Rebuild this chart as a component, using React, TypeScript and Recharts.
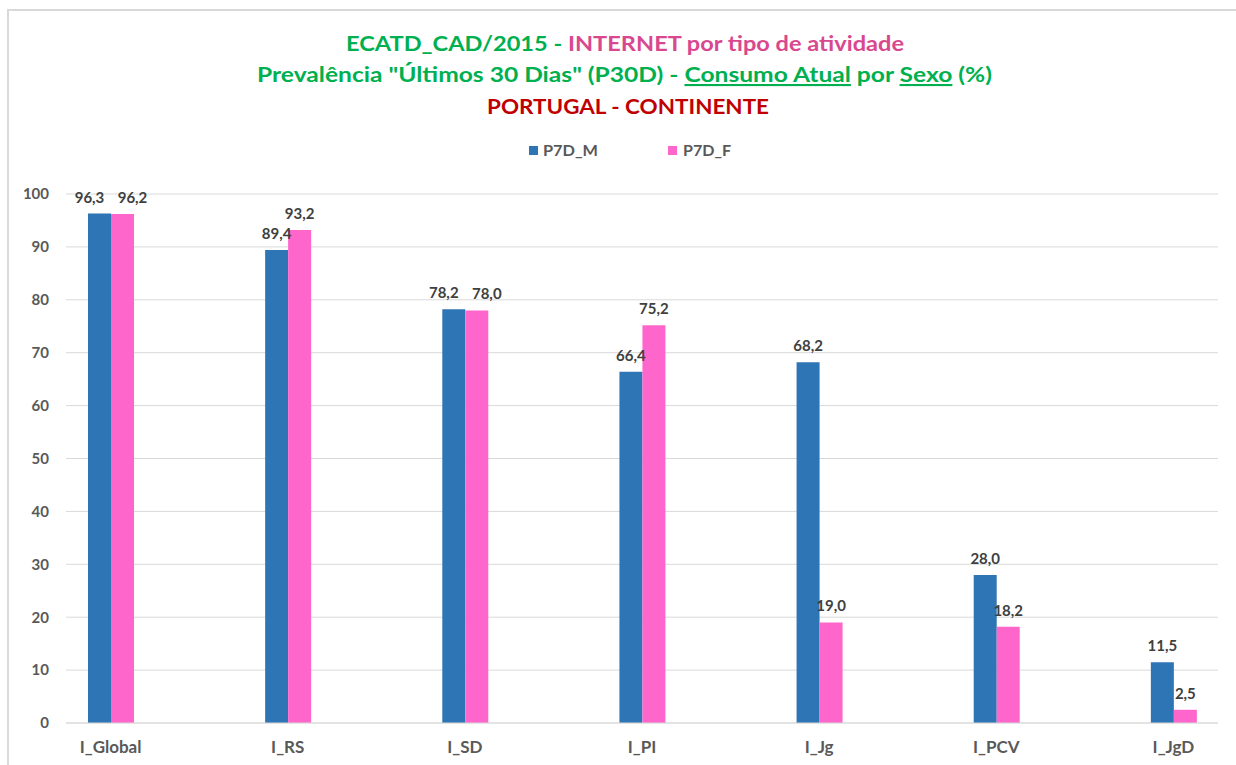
import React from 'react';
import { BarChart, Bar, XAxis, YAxis, CartesianGrid, LabelList } from 'recharts';

const categories = ['I_Global', 'I_RS', 'I_SD', 'I_PI', 'I_Jg', 'I_PCV', 'I_JgD'];
const maleValues = [96.3, 89.4, 78.2, 66.4, 68.2, 28.0, 11.5];
const femaleValues = [96.2, 93.2, 78.0, 75.2, 19.0, 18.2, 2.5];
const yTicks = [0, 10, 20, 30, 40, 50, 60, 70, 80, 90, 100];
const seriesNames = ['P7D_M', 'P7D_F'];
const seriesColors = ['#2E75B6', '#FF66CC'];

const data = categories.map((c, i) => ({ name: c, m: maleValues[i], f: femaleValues[i] }));

const FONT = 'Lato, "Open Sans", sans-serif';
const fmt = (v: any) => Number(v).toFixed(1).replace('.', ',');

const GREEN = '#00B050';
const PINK = '#D9488F';
const RED = '#C00000';

const makeLabel = (series: 'm' | 'f') => (props: any) => {
  const { x, y, width, value, index } = props;
  const other = series === 'm' ? femaleValues[index] : maleValues[index];
  const close = Math.abs(Number(value) - other) < 3;
  const shift = close ? (series === 'm' ? -10 : 10) : 0;
  return (
    <text
      x={Number(x) + Number(width) / 2 + shift}
      y={Number(y) - 11}
      textAnchor="middle"
      fill="#404040"
      fontSize={15}
      fontWeight={700}
      fontFamily={FONT}
    >
      {fmt(value)}
    </text>
  );
};

export default function App() {
  return (
    <div style={{ position: 'absolute', left: 0, top: 0, width: 1236, height: 765, overflow: 'hidden', background: '#fff' }}>
      <div
        style={{
          position: 'absolute',
          left: 7,
          top: 9,
          width: 1300,
          height: 800,
          borderLeft: '2px solid #D9D9D9',
          borderTop: '2px solid #D9D9D9',
          boxSizing: 'border-box',
        }}
      />
      <div style={{ position: 'absolute', left: 0, top: 0 }}>
        <BarChart
          width={1236}
          height={765}
          data={data}
          margin={{ top: 194, right: 18, bottom: 12, left: 16 }}
          barGap={0}
          barSize={23}
        >
          <CartesianGrid vertical={false} stroke="#D9D9D9" strokeWidth={1} />
          <XAxis
            dataKey="name"
            height={30}
            padding={{ left: -44, right: -44 }}
            axisLine={{ stroke: '#D9D9D9' }}
            tickLine={false}
            tickSize={0}
            tickMargin={18}
            interval={0}
            tick={{ fill: '#595959', fontSize: 17, fontWeight: 700, fontFamily: FONT }}
          />
          <YAxis
            width={50}
            domain={[0, 100]}
            ticks={yTicks}
            axisLine={false}
            tickLine={false}
            tickSize={0}
            tickMargin={17}
            tick={{ fill: '#595959', fontSize: 15, fontWeight: 700, fontFamily: FONT }}
          />
          <Bar dataKey="m" name={seriesNames[0]} fill={seriesColors[0]} isAnimationActive={false}>
            <LabelList dataKey="m" content={makeLabel('m')} />
          </Bar>
          <Bar dataKey="f" name={seriesNames[1]} fill={seriesColors[1]} isAnimationActive={false}>
            <LabelList dataKey="f" content={makeLabel('f')} />
          </Bar>
        </BarChart>
      </div>
      <svg
        width={1236}
        height={170}
        style={{ position: 'absolute', left: 0, top: 0, pointerEvents: 'none' }}
      >
        <text
          x={625}
          y={51}
          textAnchor="middle"
          fontFamily={FONT}
          fontWeight={700}
          fontSize={21}
          textLength={558}
          lengthAdjust="spacingAndGlyphs"
        >
          <tspan fill={GREEN}>ECATD_CAD/2015 - </tspan>
          <tspan fill={PINK}>INTERNET por tipo de atividade</tspan>
        </text>
        <text
          x={624.5}
          y={82}
          textAnchor="middle"
          fontFamily={FONT}
          fontWeight={700}
          fontSize={21}
          fill={GREEN}
          textLength={735}
          lengthAdjust="spacingAndGlyphs"
        >
          <tspan>Prevalência "Últimos 30 Dias" (P30D) - </tspan>
          <tspan style={{ textDecoration: 'underline' }}>Consumo Atual</tspan>
          <tspan> por </tspan>
          <tspan style={{ textDecoration: 'underline' }}>Sexo</tspan>
          <tspan> (%)</tspan>
        </text>
        <text
          x={628}
          y={114}
          textAnchor="middle"
          fontFamily={FONT}
          fontWeight={700}
          fontSize={21}
          fill={RED}
          textLength={282}
          lengthAdjust="spacingAndGlyphs"
        >
          PORTUGAL - CONTINENTE
        </text>
        <rect x={529} y={146} width={9} height={9} fill={seriesColors[0]} />
        <text x={543} y={156} fontFamily={FONT} fontWeight={700} fontSize={15} fill="#595959" textLength={55} lengthAdjust="spacingAndGlyphs">
          {seriesNames[0]}
        </text>
        <rect x={668} y={146} width={9} height={9} fill={seriesColors[1]} />
        <text x={683} y={156} fontFamily={FONT} fontWeight={700} fontSize={15} fill="#595959" textLength={48} lengthAdjust="spacingAndGlyphs">
          {seriesNames[1]}
        </text>
      </svg>
    </div>
  );
}
